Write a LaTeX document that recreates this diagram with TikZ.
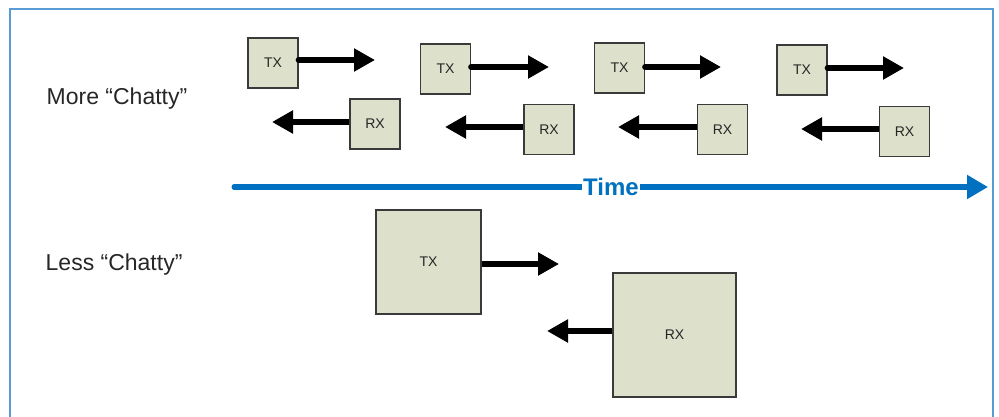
\documentclass[tikz,border=0pt]{standalone}
\usepackage{fontspec}
\setmainfont{Liberation Sans}
\usetikzlibrary{arrows.meta}
\definecolor{framecol}{RGB}{91,155,213}
\definecolor{boxfill}{RGB}{221,224,203}
\definecolor{boxline}{RGB}{58,58,58}
\definecolor{timeblue}{RGB}{0,112,192}
\tikzset{
  unit/.style={draw=boxline, line width=1.3pt, fill=boxfill, inner sep=0pt,
    font=\fontsize{14}{16}\selectfont, text=black!85},
  small/.style={unit, minimum width=50pt, minimum height=50pt},
  sendarrow/.style={line width=6pt, line cap=round, -{Triangle[length=21pt,width=22pt]}},
  recvarrow/.style={line width=6pt, -{Triangle[length=21pt,width=22pt]}},
  rowlabel/.style={anchor=base west, inner sep=0pt, font=\fontsize{23}{26}\selectfont, text=black!85},
}
\begin{document}
\begin{tikzpicture}[x=1pt, y=-1pt]
  \useasboundingbox (0,0) rectangle (999,417);
  % outer frame, open at the bottom
  \draw[framecol, line width=1.5pt] (10,420) -- (10,9) -- (993,9) -- (993,420);

  % row labels
  \node[rowlabel] (more) at (46.5,105) {More “Chatty”};
  \node[rowlabel] (less) at (45.5,270) {Less “Chatty”};

  % frequent small exchanges
  \node[small] (tx1) at (273,63) {TX};
  \node[small] (rx1) at (375,124) {RX};
  \node[small] (tx2) at (445.5,69) {TX};
  \node[small] (rx2) at (549,129.5) {RX};
  \node[small] (tx3) at (619.5,68) {TX};
  \node[small] (rx3) at (722.5,129.5) {RX};
  \node[small] (tx4) at (802,70) {TX};
  \node[small] (rx4) at (904.5,131.5) {RX};

  \coordinate (t1) at (375,60);  \coordinate (r1) at (272,122);
  \coordinate (t2) at (549,67);  \coordinate (r2) at (445,127);
  \coordinate (t3) at (721,67);  \coordinate (r3) at (618,127);
  \coordinate (t4) at (904,68);  \coordinate (r4) at (801,129);

  \draw[sendarrow] (tx1.east |- t1) -- (t1);
  \draw[sendarrow] (tx2.east |- t2) -- (t2);
  \draw[sendarrow] (tx3.east |- t3) -- (t3);
  \draw[sendarrow] (tx4.east |- t4) -- (t4);
  \draw[recvarrow] (rx1.west |- r1) -- (r1);
  \draw[recvarrow] (rx2.west |- r2) -- (r2);
  \draw[recvarrow] (rx3.west |- r3) -- (r3);
  \draw[recvarrow] (rx4.west |- r4) -- (r4);

  % time axis
  \coordinate (tstart) at (234,187);
  \coordinate (tend) at (988,187);
  \draw[timeblue, line width=5pt, line cap=round, -{Triangle[length=21pt,width=23pt]}] (tstart) -- (tend);
  \node[fill=white, inner sep=1pt, text=timeblue, font=\bfseries\fontsize{24}{26}\selectfont] (time) at (611,187) {Time};

  % fewer large exchanges
  \node[unit, minimum width=105pt, minimum height=104pt] (txbig) at (428.5,262) {TX};
  \node[unit, minimum width=123pt, minimum height=124pt] (rxbig) at (674.5,335) {RX};
  \coordinate (tb) at (559,264);
  \coordinate (rb) at (547,331);
  \draw[recvarrow] (txbig.east |- tb) -- (tb);
  \draw[recvarrow] (rxbig.west |- rb) -- (rb);
\end{tikzpicture}
\end{document}
